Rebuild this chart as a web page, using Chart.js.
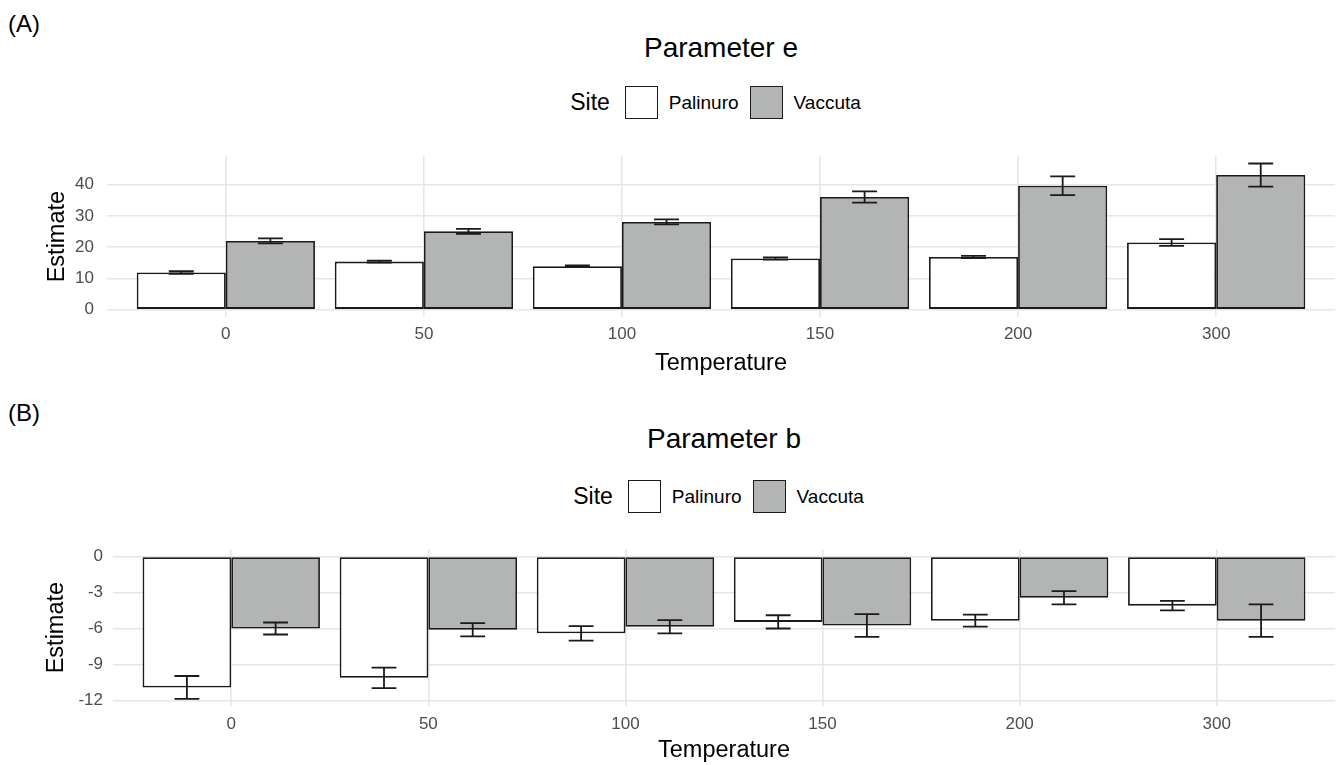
<!DOCTYPE html>
<html>
<head>
<meta charset="utf-8">
<script src="https://cdn.jsdelivr.net/npm/chart.js@4.4.1/dist/chart.umd.min.js"></script>
<style>
  body { margin: 0; background: #fff; font-family: "Liberation Sans", Arial, sans-serif; color: #000; }
  #page { position: relative; width: 1338px; height: 765px; overflow: hidden; }
  .tag { position: absolute; left: 8px; font-size: 24px; line-height: 24px; }
  .ptitle { position: absolute; text-align: center; font-size: 28px; line-height: 28px; }
  .legend { position: absolute; height: 33px; display: flex; justify-content: center; align-items: center; }
  .legend .lt { font-size: 23px; margin-right: 15px; }
  .legend .key { width: 33px; height: 33px; border: 1.5px solid #1a1a1a; box-sizing: border-box; margin-right: 11px; }
  .legend .lab { font-size: 19px; margin-right: 11px; }
  .box { position: absolute; left: 0; width: 1338px; }
</style>
</head>
<body>
<div id="page">
  <div class="tag" style="top:12px">(A)</div>
  <div class="ptitle" style="top:34px; left:107px; width:1228px">Parameter e</div>
  <div class="legend" style="top:86px; left:107px; width:1228px">
    <span class="lt">Site</span>
    <span class="key" style="background:#ffffff"></span><span class="lab">Palinuro</span>
    <span class="key" style="background:#b3b5b5"></span><span class="lab">Vaccuta</span>
  </div>
  <div class="box" style="top:133px; height:247px"><canvas id="chartE"></canvas></div>

  <div class="tag" style="top:401px">(B)</div>
  <div class="ptitle" style="top:425px; left:113px; width:1222px">Parameter b</div>
  <div class="legend" style="top:480px; left:113px; width:1222px">
    <span class="lt">Site</span>
    <span class="key" style="background:#ffffff"></span><span class="lab">Palinuro</span>
    <span class="key" style="background:#b3b5b5"></span><span class="lab">Vaccuta</span>
  </div>
  <div class="box" style="top:529px; height:236px"><canvas id="chartB"></canvas></div>
</div>

<script>
// categories
const temps = ['0', '50', '100', '150', '200', '300'];
const sites = ['Palinuro', 'Vaccuta'];

// parameter e (estimate +/- error)
const eEstPalinuro = [11.9, 15.4, 13.9, 16.4, 16.9, 21.5];
const eErrPalinuro = [0.4, 0.3, 0.3, 0.35, 0.35, 1.1];
const eEstVaccuta = [22.0, 25.1, 28.1, 36.1, 39.7, 43.1];
const eErrVaccuta = [0.8, 0.8, 0.8, 1.8, 3.0, 3.7];
const eTicks = [0, 10, 20, 30, 40];

// parameter b
const bEstPalinuro = [-10.9, -10.1, -6.4, -5.45, -5.35, -4.1];
const bErrPalinuro = [0.95, 0.85, 0.6, 0.55, 0.5, 0.4];
const bEstVaccuta = [-6.0, -6.1, -5.85, -5.75, -3.45, -5.35];
const bErrVaccuta = [0.5, 0.55, 0.55, 0.95, 0.55, 1.35];
const bTicks = [0, -3, -6, -9, -12];

const fills = ['#ffffff', '#b3b5b5'];
const FONT = '"Liberation Sans", Arial, sans-serif';

// draws the whiskers on top of the bars
const errorBars = {
  id: 'errorBars',
  afterDatasetsDraw(chart) {
    const ctx = chart.ctx;
    const y = chart.scales.y;
    ctx.save();
    ctx.strokeStyle = '#1a1a1a';
    ctx.lineWidth = 1.8;
    chart.data.datasets.forEach((ds, di) => {
      chart.getDatasetMeta(di).data.forEach((bar, i) => {
        const v = ds.data[i].y, e = ds.errors[i];
        const hi = y.getPixelForValue(v + e), lo = y.getPixelForValue(v - e);
        const half = bar.width * 0.14;
        ctx.beginPath();
        ctx.moveTo(bar.x, hi); ctx.lineTo(bar.x, lo);
        ctx.moveTo(bar.x - half, hi); ctx.lineTo(bar.x + half, hi);
        ctx.moveTo(bar.x - half, lo); ctx.lineTo(bar.x + half, lo);
        ctx.stroke();
      });
    });
    ctx.restore();
  }
};

function makeChart(id, pal, palErr, vac, vacErr, majors, box) {
  // ggplot style range: include 0 and whiskers, expand 5%
  const lows = pal.map((v, i) => v - palErr[i]).concat(vac.map((v, i) => v - vacErr[i]), [0]);
  const highs = pal.map((v, i) => v + palErr[i]).concat(vac.map((v, i) => v + vacErr[i]), [0]);
  const lo = Math.min(...lows), hi = Math.max(...highs);
  const pad = (hi - lo) * 0.05;
  const yMin = lo - pad, yMax = hi + pad;
  const half = Math.abs(majors[1] - majors[0]) / 2;
  const gridVals = [];
  for (let v = Math.ceil(yMin / half) * half; v <= yMax; v += half) gridVals.push(Math.round(v * 100) / 100);
  const isMajor = v => majors.includes(v);

  const series = [pal, vac], errs = [palErr, vacErr];

  return new Chart(document.getElementById(id), {
    type: 'bar',
    data: {
      datasets: sites.map((s, k) => ({
        label: s,
        data: series[k].map((v, i) => ({ x: i, y: v })),
        errors: errs[k],
        backgroundColor: fills[k],
        borderColor: '#1a1a1a',
        borderWidth: 1.8,
        borderSkipped: false,
        categoryPercentage: 0.9,
        barPercentage: 1.0
      }))
    },
    plugins: [errorBars],
    options: {
      responsive: true,
      maintainAspectRatio: false,
      animation: false,
      layout: { padding: { top: box.top, left: box.left, right: 3, bottom: 0 } },
      plugins: { legend: { display: false }, tooltip: { enabled: false } },
      scales: {
        x: {
          type: 'linear',
          min: -0.6,
          max: 5.6,
          offset: false,
          afterBuildTicks: s => { s.ticks = temps.map((t, i) => ({ value: i })); },
          afterFit: s => { s.height = box.xHeight; },
          ticks: {
            callback: v => temps[v],
            color: '#4d4d4d',
            font: { family: FONT, size: 17 },
            padding: box.xTickPad,
            maxRotation: 0,
            autoSkip: false
          },
          grid: { color: '#e6e6e6', lineWidth: 1.6, drawTicks: false, offset: false },
          border: { display: false },
          title: {
            display: true,
            text: 'Temperature',
            color: '#000',
            font: { family: FONT, size: 23.5 },
            padding: { top: 0, bottom: box.xTitlePad }
          }
        },
        y: {
          min: yMin,
          max: yMax,
          afterBuildTicks: s => { s.ticks = gridVals.map(v => ({ value: v })); },
          afterFit: s => { s.width = box.yWidth; },
          ticks: {
            callback: v => isMajor(v) ? String(v) : '',
            color: '#4d4d4d',
            font: { family: FONT, size: 17 },
            padding: box.yTickPad
          },
          grid: {
            color: c => (c.tick && isMajor(c.tick.value)) ? '#e6e6e6' : '#efefef',
            lineWidth: c => (c.tick && isMajor(c.tick.value)) ? 1.6 : 1,
            drawTicks: false
          },
          border: { display: false },
          title: {
            display: true,
            text: 'Estimate',
            color: '#000',
            font: { family: FONT, size: 23.5 },
            padding: { top: 4, bottom: 4 }
          }
        }
      }
    }
  });
}

makeChart('chartE', eEstPalinuro, eErrPalinuro, eEstVaccuta, eErrVaccuta, eTicks,
  { top: 6, left: 39, yWidth: 68, xHeight: 63, xTickPad: 7, xTitlePad: 2, yTickPad: 13 });
makeChart('chartB', bEstPalinuro, bErrPalinuro, bEstVaccuta, bErrVaccuta, bTicks,
  { top: 7, left: 38, yWidth: 75, xHeight: 59, xTickPad: 8, xTitlePad: 0, yTickPad: 10 });
</script>
</body>
</html>
